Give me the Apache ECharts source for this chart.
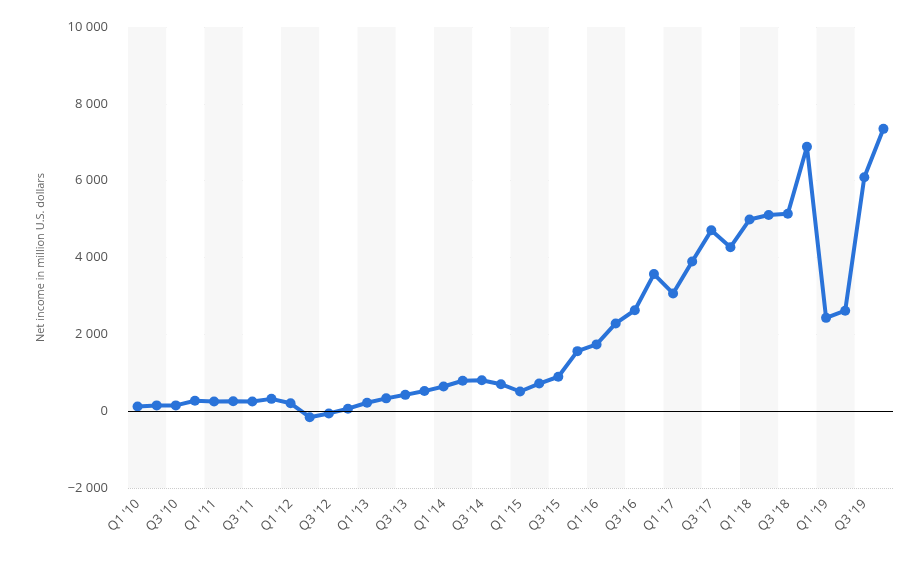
<!DOCTYPE html>
<html><head><meta charset="utf-8">
<script src="https://cdn.jsdelivr.net/npm/echarts@6/dist/echarts.min.js"></script>
<style>html,body{margin:0;padding:0;background:#fff}#c{width:915px;height:565px}</style>
</head><body><div id="c"></div>
<script>
var quarters = [];
for (var y = 10; y <= 19; y++) {
  for (var q = 1; q <= 4; q++) quarters.push('Q' + q + " '" + y);
}
var netIncome = [120, 150, 150, 270, 250, 260, 250, 320, 205, -157, -59, 64,
  219, 333, 425, 523, 642, 791, 806, 701, 512, 719, 896, 1562,
  1738, 2283, 2627, 3568, 3064, 3894, 4707, 4268, 4988, 5106, 5137, 6882,
  2429, 2616, 6091, 7349];

var myChart = echarts.init(document.getElementById('c'));
var option = {
  grid: { left: 128, right: 22, top: 27, bottom: 77 },
  xAxis: {
    type: 'category',
    data: quarters,
    boundaryGap: true,
    axisLine: { show: false },
    axisTick: { show: false },
    axisLabel: { interval: 1, rotate: 45, color: '#555', fontSize: 13, fontFamily: 'Open Sans', margin: 14 },
    splitArea: { show: true, interval: 1, areaStyle: { color: ['#f7f7f7', '#ffffff'] } }
  },
  yAxis: {
    type: 'value',
    min: -2000, max: 10000, interval: 2000,
    name: 'Net income in million U.S. dollars',
    nameLocation: 'middle', nameGap: 82,
    nameTextStyle: { color: '#666', fontSize: 11, fontFamily: 'Open Sans' },
    axisLine: { show: false },
    axisTick: { show: false },
    axisLabel: {
      color: '#555', fontSize: 13, fontFamily: 'Open Sans', margin: 20,
      formatter: function (v) {
        var s = String(Math.abs(v)).replace(/\B(?=(\d{3})+(?!\d))/g, ' ');
        return (v < 0 ? '\u2212' : '') + s;
      }
    },
    splitLine: { lineStyle: { color: '#ccc', type: 'dotted' } }
  },
  series: [{
    type: 'line',
    data: netIncome,
    symbol: 'circle',
    symbolSize: 10,
    lineStyle: { color: '#2a73d9', width: 4 },
    itemStyle: { color: '#2a73d9' },
    markLine: {
      silent: true, symbol: 'none', label: { show: false },
      lineStyle: { color: '#000', type: 'solid', width: 1 },
      data: [{ yAxis: 0 }]
    }
  }]
};
myChart.setOption(option);
</script></body></html>
